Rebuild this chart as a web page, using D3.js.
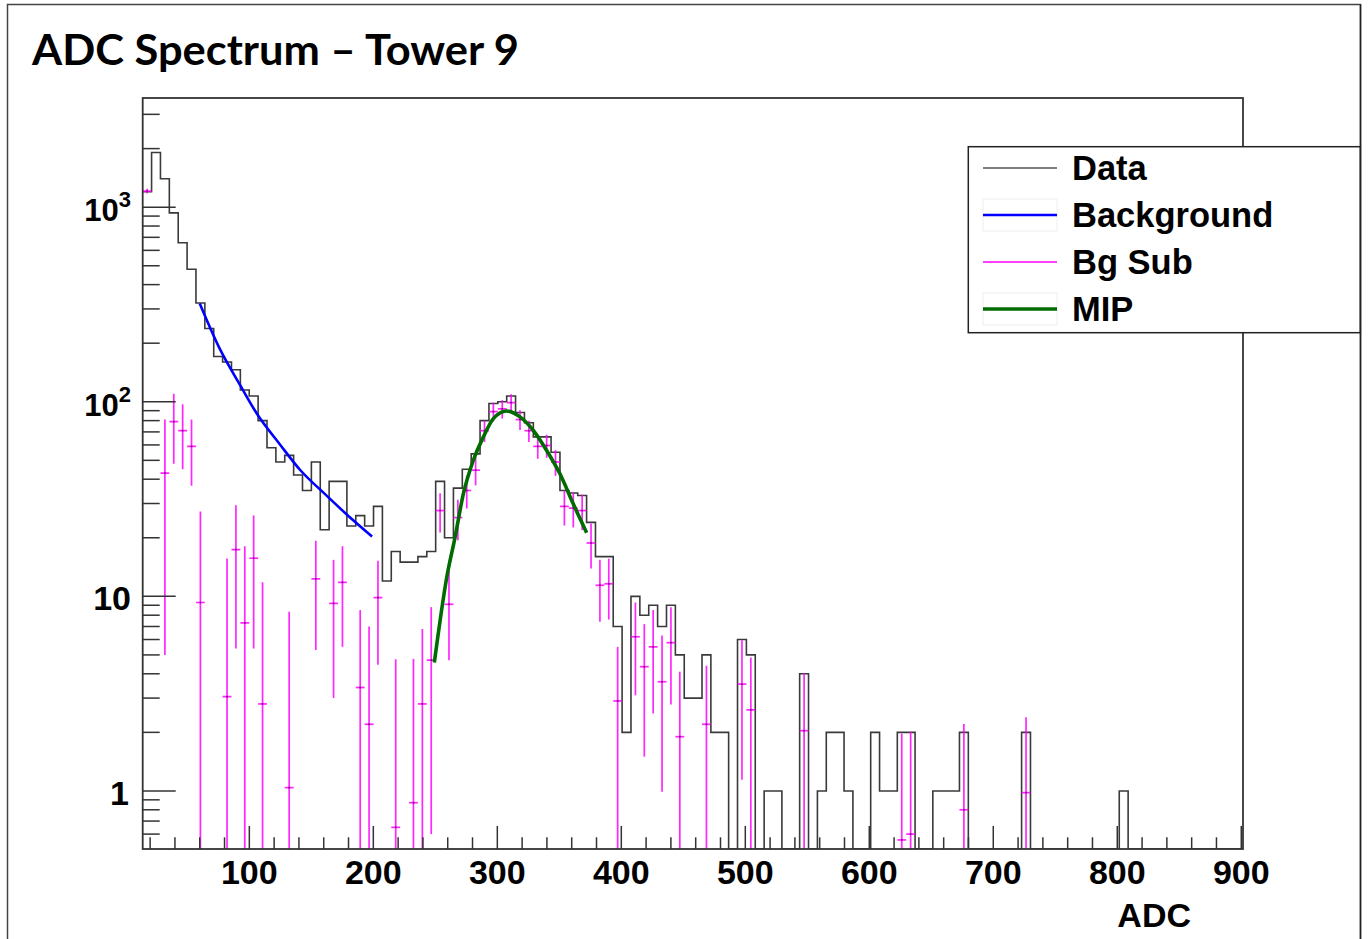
<!DOCTYPE html>
<html>
<head>
<meta charset="utf-8">
<script src="https://cdn.jsdelivr.net/npm/d3@7"></script>
<style>
  body { margin: 0; background: #fff; }
  svg { display: block; }
</style>
</head>
<body>
<svg id="chart" width="1371" height="939"></svg>
<script>
// histogram binning (ADC)
const xMin = 14, binWidth = 7.16;

// Data: counts per bin
const counts = [
  1200, 1910, 1400, 935, 656, 480, 322, 238, 171, 160,
  146, 115, 107, 80, 58, 49, 53, 42, 35, 49,
  22, 39, 39, 23, 26, 23, 29, 12, 17, 15,
  15, 16, 17, 39, 20, 36, 45, 54, 80, 98,
  100, 107, 88, 78, 66, 66, 55, 35, 34, 33,
  24, 16, 16, 7, 2, 10, 8, 9, 7, 9,
  5, 3, 3, 5, 2, 2, 0, 6, 5, 0,
  1, 1, 0, 0, 4, 0, 1, 2, 2, 1,
  0, 0, 2, 1, 1, 2, 2, 0, 0, 1,
  1, 1, 2, 0, 0, 0, 0, 0, 0, 2,
  0, 0, 0, 0, 0, 0, 0, 0, 0, 0,
  1, 0, 0, 0, 0, 0, 0, 0, 0, 0,
  0, 0, 0, 0
];

// Bg Sub: bin index, value, error
const subBins = [0, 2, 3, 4, 5, 6, 9, 10, 11, 12, 13, 16, 19, 21, 22, 24, 25, 26, 28, 30,
  31, 32, 33, 34, 35, 36, 37, 38, 39, 40, 41, 42, 43, 44, 45, 46, 47, 48, 49, 50,
  51, 52, 53, 55, 56, 57, 58, 59, 60, 63, 67, 68, 74, 85, 86, 92, 99];
const subVals = [1210, 43, 79, 71, 59, 9.3, 3.05, 17.4, 7.3, 15.7, 2.8, 1.04, 12.3, 9.2, 11.8, 3.4, 2.2, 9.85, 0.65, 0.87,
  2.8, 4.7, 27.6, 9.1, 25.4, 35, 44.5, 71, 89, 92, 99, 81, 71, 59, 59.6, 49, 29, 28.4, 27.6, 18.8,
  11.4, 11.6, 2.9, 6.2, 4.35, 5.5, 3.64, 5.78, 1.9, 2.2, 3.54, 2.61, 2.04, 0.56, 0.6, 0.8, 0.98];
const subErrs = [35, 38, 31, 26, 22, 18, 12.6, 12, 10.8, 10.3, 9, 7.3, 7, 6.2, 6.3, 5.1, 4.8, 5.4, 4.1, 3.9,
  4, 4.1, 6.3, 4.4, 6, 6.7, 7.3, 8.9, 9.9, 10, 10.3, 9.4, 8.8, 8.1, 8.1, 7.4, 5.9, 5.8, 5.7, 4.9,
  4, 4, 2.6, 3.1, 2.85, 3, 2.65, 3, 2.2, 2.2, 2.4, 2.24, 2, 1.41, 1.41, 1.41, 1.41];

// Background fit
const bgX = [60, 76, 92.5, 106, 125, 141, 160, 179, 199];
const bgY = [320, 188, 122, 87, 60, 44.6, 34, 26.2, 20.3];

// MIP fit
const mipX = [249.2, 259.2, 265.9, 272.6, 280.6, 288.7, 296.8, 307.6, 318.3, 329, 339.8, 350.6, 361.3, 372.1];
const mipY = [4.57, 12.5, 20.1, 33.6, 49.9, 65.8, 81.9, 89.6, 83.6, 71.3, 56.2, 42.5, 29.8, 21.2];

const xTickVals = [100, 200, 300, 400, 500, 600, 700, 800, 900];
const yTickVals = [1, 10, 100, 1000];
const yTickLabels = [["1", ""], ["10", ""], ["10", "2"], ["10", "3"]];
const legendNames = ["Data", "Background", "Bg Sub", "MIP"];

const svg = d3.select("#chart");
const fr = { x0: 142.7, x1: 1243, y0: 98, y1: 849 };
const x = d3.scaleLinear().domain([14, 901.4]).range([fr.x0, fr.x1]);
const y = d3.scaleLog().domain([0.503, 3640]).range([fr.y1, fr.y0]);
const yMin = y.domain()[0];
const edge = i => xMin + i * binWidth;
const axisColor = "#333";
const labelFont = "'Liberation Sans', Arial, sans-serif";

// slide border
svg.append("rect")
  .attr("x", 7.5).attr("y", 4.5).attr("width", 1353).attr("height", 950)
  .attr("fill", "none").attr("stroke", "#444").attr("stroke-width", 1.5);

// title
svg.append("text")
  .attr("x", 32).attr("y", 65)
  .attr("font-family", "Lato, 'Open Sans', sans-serif")
  .attr("font-weight", 700)
  .attr("font-size", 42)
  .attr("textLength", 487).attr("lengthAdjust", "spacingAndGlyphs")
  .text("ADC Spectrum \u2013 Tower 9");

svg.append("defs").append("clipPath").attr("id", "frameClip")
  .append("rect").attr("x", fr.x0).attr("y", fr.y0)
  .attr("width", fr.x1 - fr.x0).attr("height", fr.y1 - fr.y0);

const plot = svg.append("g").attr("clip-path", "url(#frameClip)");

// data histogram
const stepPts = [];
counts.forEach((c, i) => {
  const v = Math.max(c, yMin);
  stepPts.push([edge(i), v], [edge(i + 1), v]);
});
const line = d3.line().x(d => x(d[0])).y(d => y(d[1]));
plot.append("path")
  .attr("d", line(stepPts))
  .attr("fill", "none").attr("stroke", "#3a3a3a").attr("stroke-width", 1.6);

// Bg Sub error bars
const pink = plot.append("g").attr("stroke", "#ff00ff").attr("stroke-opacity", 0.85).attr("stroke-width", 1.7);
subBins.forEach((b, i) => {
  const v = subVals[i], e = subErrs[i];
  const xc = x(edge(b) + binWidth / 2);
  pink.append("line")
    .attr("x1", x(edge(b))).attr("x2", x(edge(b + 1)))
    .attr("y1", y(v)).attr("y2", y(v));
  pink.append("line")
    .attr("x1", xc).attr("x2", xc)
    .attr("y1", y(v + e)).attr("y2", y(Math.max(v - e, yMin)));
  plot.append("rect")
    .attr("x", xc - 0.75).attr("y", y(v) - 0.75).attr("width", 1.5).attr("height", 1.5)
    .attr("fill", "#7a007a");
});

// fits
const curve = d3.line().x(d => x(d[0])).y(d => y(d[1])).curve(d3.curveMonotoneX);
plot.append("path")
  .attr("d", curve(bgX.map((v, i) => [v, bgY[i]])))
  .attr("fill", "none").attr("stroke", "#0000ff").attr("stroke-width", 2.6);
plot.append("path")
  .attr("d", curve(mipX.map((v, i) => [v, mipY[i]])))
  .attr("fill", "none").attr("stroke", "#006b00").attr("stroke-width", 3.6);

// frame
svg.append("rect")
  .attr("x", fr.x0).attr("y", fr.y0)
  .attr("width", fr.x1 - fr.x0).attr("height", fr.y1 - fr.y0)
  .attr("fill", "none").attr("stroke", axisColor).attr("stroke-width", 1.8);

// x ticks (inside, upward)
const xt = svg.append("g").attr("stroke", axisColor).attr("stroke-width", 1.5);
d3.range(20, 901, 20).forEach(v => {
  const major = v % 100 === 0;
  xt.append("line")
    .attr("x1", x(v)).attr("x2", x(v))
    .attr("y1", fr.y1).attr("y2", fr.y1 - (major ? 23 : 11.7));
});
svg.append("g").selectAll("text")
  .data(xTickVals).enter()
  .append("text")
  .attr("x", d => x(d)).attr("y", 884)
  .attr("text-anchor", "middle")
  .attr("font-family", labelFont).attr("font-weight", 700).attr("font-size", 34)
  .text(d => d);

svg.append("text")
  .attr("x", 1191).attr("y", 927)
  .attr("text-anchor", "end")
  .attr("font-family", labelFont).attr("font-weight", 700).attr("font-size", 34)
  .text("ADC");

// y ticks (inside, rightward)
const yt = svg.append("g").attr("stroke", axisColor).attr("stroke-width", 1.5);
for (let k = -1; k <= 3; k++) {
  for (let m = 1; m <= 9; m++) {
    const v = m * Math.pow(10, k);
    if (v < yMin || v > y.domain()[1]) continue;
    yt.append("line")
      .attr("x1", fr.x0).attr("x2", fr.x0 + (m === 1 ? 33 : 17))
      .attr("y1", y(v)).attr("y2", y(v));
  }
}
const yLabelRight = [129, 131, 131, 131];
const yLabelSize = [34, 34, 31, 31];
yTickVals.forEach((v, i) => {
  const t = svg.append("text")
    .attr("x", yLabelRight[i]).attr("y", y(v) + 14)
    .attr("text-anchor", "end")
    .attr("font-family", labelFont).attr("font-weight", 700).attr("font-size", yLabelSize[i])
    .text(yTickLabels[i][0]);
  if (yTickLabels[i][1]) {
    t.append("tspan").attr("dy", -14).attr("font-size", 22).text(yTickLabels[i][1]);
  }
});

// legend
const lg = svg.append("g");
lg.append("rect")
  .attr("x", 968.3).attr("y", 146.7).attr("width", 392).attr("height", 186)
  .attr("fill", "#fff").attr("stroke", "#222").attr("stroke-width", 1.5);
const rowY = [168, 215, 262, 309];
const legStroke = ["#555", "#0000ff", "#ff00ff", "#006b00"];
const legWidth = [1.5, 2.6, 1.7, 3.6];
legendNames.forEach((name, i) => {
  if (i === 1 || i === 3) {
    lg.append("rect")
      .attr("x", 983).attr("y", rowY[i] - 16).attr("width", 74).attr("height", 32)
      .attr("fill", "none").attr("stroke", "#eee").attr("stroke-width", 1);
  }
  lg.append("line")
    .attr("x1", 983).attr("x2", 1057)
    .attr("y1", rowY[i]).attr("y2", rowY[i])
    .attr("stroke", legStroke[i]).attr("stroke-width", legWidth[i]);
  lg.append("text")
    .attr("x", 1072).attr("y", rowY[i] + 12)
    .attr("font-family", labelFont).attr("font-weight", 700).attr("font-size", 34.5)
    .text(name);
});
// right border of the slide over the legend
svg.append("line")
  .attr("x1", 1360.5).attr("x2", 1360.5).attr("y1", 4.5).attr("y2", 939)
  .attr("stroke", "#222").attr("stroke-width", 1.5);
</script>
</body>
</html>
